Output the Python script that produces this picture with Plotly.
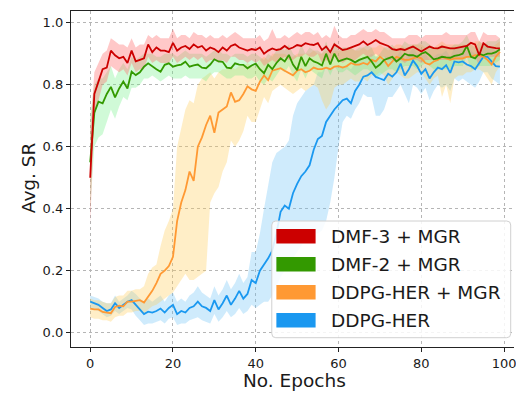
import plotly.graph_objects as go

epochs = list(range(100))

dmf3_mean = [0.50, 0.77, 0.81, 0.85, 0.855, 0.91, 0.895, 0.885, 0.89, 0.87,
             0.91, 0.875, 0.88, 0.885, 0.93, 0.905, 0.92, 0.91, 0.91, 0.905,
             0.935, 0.91, 0.92, 0.925, 0.915, 0.93, 0.92, 0.925, 0.91, 0.92,
             0.915, 0.905, 0.92, 0.91, 0.925, 0.93, 0.92, 0.915, 0.91, 0.915,
             0.912, 0.92, 0.90, 0.91, 0.917, 0.912, 0.915, 0.925, 0.915, 0.92,
             0.928, 0.925, 0.934, 0.93, 0.928, 0.934, 0.912, 0.923, 0.905, 0.93,
             0.92, 0.912, 0.915, 0.92, 0.923, 0.93, 0.94, 0.928, 0.935, 0.944,
             0.935, 0.93, 0.925, 0.915, 0.912, 0.915, 0.912, 0.918, 0.923, 0.915,
             0.907, 0.915, 0.923, 0.918, 0.917, 0.923, 0.92, 0.917, 0.917, 0.92,
             0.923, 0.925, 0.935, 0.93, 0.895, 0.934, 0.923, 0.92, 0.918, 0.917]
dmf3_lo = [0.35, 0.70, 0.75, 0.80, 0.81, 0.86, 0.85, 0.84, 0.85, 0.83,
           0.87, 0.84, 0.85, 0.85, 0.89, 0.87, 0.88, 0.87, 0.87, 0.87,
           0.89, 0.87, 0.88, 0.89, 0.88, 0.89, 0.88, 0.89, 0.87, 0.88,
           0.88, 0.87, 0.88, 0.87, 0.89, 0.89, 0.88, 0.88, 0.87, 0.88,
           0.87, 0.88, 0.86, 0.87, 0.88, 0.87, 0.88, 0.89, 0.88, 0.88,
           0.89, 0.89, 0.90, 0.89, 0.89, 0.90, 0.87, 0.88, 0.87, 0.89,
           0.88, 0.87, 0.88, 0.88, 0.88, 0.89, 0.90, 0.89, 0.89, 0.90,
           0.89, 0.89, 0.88, 0.88, 0.87, 0.88, 0.87, 0.88, 0.88, 0.88,
           0.87, 0.88, 0.88, 0.88, 0.88, 0.88, 0.88, 0.88, 0.88, 0.88,
           0.88, 0.89, 0.89, 0.89, 0.86, 0.90, 0.89, 0.89, 0.89, 0.89]
dmf3_hi = [0.65, 0.84, 0.87, 0.90, 0.91, 0.95, 0.94, 0.93, 0.93, 0.92,
           0.95, 0.92, 0.93, 0.93, 0.96, 0.95, 0.96, 0.95, 0.95, 0.95,
           0.98, 0.95, 0.96, 0.96, 0.95, 0.97, 0.96, 0.96, 0.95, 0.96,
           0.95, 0.95, 0.96, 0.95, 0.96, 0.97, 0.96, 0.95, 0.95, 0.95,
           0.95, 0.96, 0.94, 0.95, 0.98, 0.95, 0.95, 0.96, 0.95, 0.96,
           0.97, 0.96, 0.97, 0.97, 0.96, 0.97, 0.95, 0.96, 0.95, 0.99,
           0.96, 0.95, 0.95, 0.96, 0.96, 0.97, 0.98, 0.97, 0.97, 0.98,
           0.97, 0.97, 0.96, 0.95, 0.95, 0.95, 0.95, 0.96, 0.96, 0.96,
           0.95, 0.96, 0.96, 0.96, 0.96, 0.96, 0.97, 0.96, 0.96, 0.96,
           0.96, 0.96, 0.97, 0.97, 0.94, 0.97, 0.96, 0.96, 0.96, 0.95]

dmf2_mean = [0.55, 0.71, 0.745, 0.74, 0.77, 0.793, 0.759, 0.788, 0.81, 0.788,
             0.842, 0.831, 0.84, 0.858, 0.869, 0.858, 0.85, 0.842, 0.864, 0.869,
             0.858, 0.862, 0.865, 0.874, 0.858, 0.862, 0.865, 0.855, 0.853, 0.865,
             0.882, 0.875, 0.874, 0.855, 0.853, 0.869, 0.865, 0.864, 0.853, 0.862,
             0.868, 0.85, 0.837, 0.864, 0.85, 0.87, 0.885, 0.875, 0.896, 0.865,
             0.847, 0.89, 0.86, 0.885, 0.875, 0.87, 0.862, 0.90, 0.865, 0.90,
             0.875, 0.88, 0.885, 0.88, 0.872, 0.88, 0.885, 0.89, 0.875, 0.855,
             0.865, 0.88, 0.885, 0.89, 0.875, 0.885, 0.90, 0.895, 0.895, 0.89,
             0.90, 0.905, 0.895, 0.882, 0.885, 0.89, 0.888, 0.887, 0.893, 0.895,
             0.90, 0.925, 0.89, 0.885, 0.90, 0.895, 0.90, 0.90, 0.905, 0.914]
dmf2_lo = [0.40, 0.60, 0.63, 0.64, 0.68, 0.72, 0.69, 0.73, 0.76, 0.75,
           0.79, 0.79, 0.80, 0.82, 0.82, 0.83, 0.82, 0.81, 0.82, 0.83,
           0.82, 0.82, 0.82, 0.83, 0.82, 0.82, 0.82, 0.82, 0.81, 0.83,
           0.84, 0.84, 0.83, 0.82, 0.82, 0.83, 0.83, 0.83, 0.82, 0.82,
           0.83, 0.81, 0.80, 0.82, 0.81, 0.83, 0.85, 0.84, 0.86, 0.83,
           0.81, 0.85, 0.82, 0.85, 0.84, 0.83, 0.82, 0.86, 0.83, 0.86,
           0.84, 0.84, 0.85, 0.84, 0.83, 0.84, 0.85, 0.85, 0.84, 0.82,
           0.83, 0.84, 0.85, 0.85, 0.84, 0.85, 0.86, 0.86, 0.86, 0.85,
           0.86, 0.87, 0.86, 0.85, 0.85, 0.85, 0.85, 0.85, 0.86, 0.86,
           0.86, 0.89, 0.85, 0.85, 0.86, 0.86, 0.86, 0.86, 0.87, 0.88]
dmf2_hi = [0.70, 0.80, 0.82, 0.82, 0.84, 0.86, 0.82, 0.85, 0.87, 0.85,
           0.89, 0.88, 0.89, 0.90, 0.90, 0.90, 0.89, 0.89, 0.90, 0.90,
           0.90, 0.89, 0.90, 0.91, 0.90, 0.90, 0.90, 0.90, 0.89, 0.90,
           0.91, 0.91, 0.90, 0.90, 0.89, 0.90, 0.90, 0.90, 0.89, 0.90,
           0.90, 0.89, 0.88, 0.90, 0.89, 0.91, 0.92, 0.91, 0.93, 0.90,
           0.89, 0.93, 0.90, 0.92, 0.91, 0.91, 0.90, 0.94, 0.90, 0.94,
           0.91, 0.92, 0.92, 0.92, 0.91, 0.92, 0.92, 0.93, 0.92, 0.89,
           0.90, 0.92, 0.92, 0.93, 0.91, 0.92, 0.94, 0.93, 0.93, 0.93,
           0.94, 0.94, 0.93, 0.92, 0.92, 0.93, 0.92, 0.92, 0.93, 0.93,
           0.94, 0.96, 0.93, 0.92, 0.94, 0.93, 0.94, 0.94, 0.94, 0.95]

ddpgm_mean = [0.078, 0.075, 0.075, 0.067, 0.065, 0.063, 0.083, 0.087, 0.085, 0.10,
              0.10, 0.103, 0.105, 0.097, 0.115, 0.135, 0.16, 0.19, 0.20, 0.215,
              0.245, 0.36, 0.42, 0.46, 0.52, 0.49, 0.60, 0.63, 0.67, 0.70,
              0.645, 0.71, 0.72, 0.73, 0.775, 0.745, 0.75, 0.77, 0.795, 0.785,
              0.78, 0.81, 0.83, 0.815, 0.845, 0.85, 0.853, 0.845, 0.837, 0.83,
              0.845, 0.85, 0.84, 0.845, 0.855, 0.85, 0.85, 0.855, 0.85, 0.858,
              0.86, 0.855, 0.86, 0.87, 0.865, 0.865, 0.87, 0.865, 0.88, 0.875,
              0.89, 0.88, 0.86, 0.875, 0.89, 0.885, 0.88, 0.88, 0.885, 0.89,
              0.885, 0.87, 0.865, 0.875, 0.88, 0.89, 0.885, 0.88, 0.885, 0.885,
              0.885, 0.89, 0.89, 0.895, 0.895, 0.89, 0.88, 0.865, 0.89, 0.906]
ddpgm_lo = [0.05, 0.045, 0.045, 0.04, 0.04, 0.035, 0.05, 0.055, 0.055, 0.065,
            0.065, 0.07, 0.07, 0.06, 0.075, 0.085, 0.09, 0.10, 0.11, 0.12,
            0.13, 0.15, 0.17, 0.19, 0.17, 0.17, 0.18, 0.19, 0.20, 0.42,
            0.45, 0.47, 0.52, 0.55, 0.62, 0.60, 0.62, 0.65, 0.70, 0.68,
            0.68, 0.72, 0.76, 0.74, 0.78, 0.79, 0.80, 0.79, 0.78, 0.77,
            0.78, 0.79, 0.78, 0.79, 0.80, 0.79, 0.75, 0.72, 0.74, 0.79,
            0.80, 0.80, 0.81, 0.82, 0.81, 0.81, 0.82, 0.81, 0.83, 0.83,
            0.84, 0.83, 0.80, 0.82, 0.84, 0.83, 0.82, 0.82, 0.83, 0.84,
            0.84, 0.82, 0.80, 0.82, 0.83, 0.76, 0.80, 0.74, 0.82, 0.83,
            0.83, 0.84, 0.84, 0.85, 0.85, 0.84, 0.82, 0.80, 0.84, 0.86]
ddpgm_hi = [0.11, 0.105, 0.105, 0.10, 0.095, 0.095, 0.115, 0.12, 0.12, 0.135,
            0.135, 0.14, 0.14, 0.15, 0.19, 0.21, 0.22, 0.28, 0.33, 0.36,
            0.40, 0.60, 0.66, 0.72, 0.75, 0.74, 0.80, 0.82, 0.83, 0.84,
            0.82, 0.84, 0.85, 0.85, 0.86, 0.85, 0.86, 0.86, 0.87, 0.86,
            0.86, 0.88, 0.89, 0.88, 0.90, 0.90, 0.90, 0.90, 0.89, 0.89,
            0.90, 0.90, 0.90, 0.90, 0.91, 0.90, 0.90, 0.91, 0.90, 0.91,
            0.91, 0.91, 0.91, 0.92, 0.91, 0.91, 0.92, 0.91, 0.92, 0.92,
            0.93, 0.92, 0.91, 0.92, 0.93, 0.93, 0.92, 0.92, 0.93, 0.93,
            0.93, 0.92, 0.92, 0.92, 0.93, 0.94, 0.93, 0.93, 0.93, 0.93,
            0.93, 0.93, 0.93, 0.94, 0.94, 0.93, 0.93, 0.92, 0.93, 0.94]

ddpg_mean = [0.10, 0.095, 0.09, 0.08, 0.07, 0.075, 0.095, 0.08, 0.09, 0.10,
             0.105, 0.09, 0.075, 0.06, 0.068, 0.065, 0.07, 0.078, 0.065, 0.08,
             0.09, 0.06, 0.07, 0.065, 0.08, 0.085, 0.10, 0.085, 0.08, 0.07,
             0.105, 0.075, 0.095, 0.12, 0.09, 0.11, 0.135, 0.11, 0.125, 0.17,
             0.16, 0.20, 0.22, 0.24, 0.265, 0.32, 0.39, 0.41, 0.40, 0.45,
             0.48, 0.505, 0.52, 0.54, 0.59, 0.625, 0.635, 0.68, 0.70, 0.72,
             0.735, 0.75, 0.755, 0.74, 0.78, 0.80, 0.826, 0.83, 0.84, 0.825,
             0.82, 0.815, 0.835, 0.826, 0.84, 0.868, 0.83, 0.85, 0.878, 0.86,
             0.835, 0.85, 0.82, 0.84, 0.855, 0.85, 0.863, 0.838, 0.875, 0.872,
             0.875, 0.865, 0.86, 0.85, 0.87, 0.89, 0.89, 0.875, 0.86, 0.858]
ddpg_lo = [0.08, 0.075, 0.07, 0.06, 0.05, 0.055, 0.07, 0.06, 0.07, 0.08,
           0.075, 0.055, 0.04, 0.025, 0.03, 0.03, 0.035, 0.04, 0.03, 0.045,
           0.05, 0.025, 0.03, 0.03, 0.04, 0.045, 0.05, 0.04, 0.035, 0.03,
           0.06, 0.035, 0.05, 0.07, 0.05, 0.06, 0.08, 0.06, 0.07, 0.09,
           0.08, 0.09, 0.10, 0.10, 0.12, 0.15, 0.18, 0.20, 0.22, 0.24,
           0.26, 0.28, 0.30, 0.31, 0.32, 0.32, 0.33, 0.36, 0.42, 0.50,
           0.60, 0.68, 0.70, 0.69, 0.72, 0.74, 0.77, 0.76, 0.76, 0.70,
           0.70, 0.72, 0.76, 0.76, 0.78, 0.80, 0.77, 0.74, 0.80, 0.79,
           0.77, 0.79, 0.75, 0.78, 0.80, 0.79, 0.80, 0.78, 0.82, 0.81,
           0.82, 0.81, 0.80, 0.79, 0.81, 0.84, 0.84, 0.82, 0.81, 0.80]
ddpg_hi = [0.12, 0.115, 0.11, 0.10, 0.095, 0.095, 0.12, 0.10, 0.11, 0.12,
           0.135, 0.125, 0.11, 0.10, 0.11, 0.10, 0.11, 0.12, 0.10, 0.12,
           0.13, 0.10, 0.11, 0.10, 0.12, 0.13, 0.15, 0.13, 0.12, 0.11,
           0.15, 0.12, 0.14, 0.17, 0.14, 0.16, 0.19, 0.16, 0.18, 0.26,
           0.26, 0.32, 0.40, 0.48, 0.55, 0.58, 0.59, 0.60, 0.62, 0.70,
           0.74, 0.76, 0.78, 0.79, 0.80, 0.84, 0.84, 0.86, 0.85, 0.86,
           0.86, 0.86, 0.86, 0.85, 0.87, 0.88, 0.89, 0.89, 0.90, 0.89,
           0.89, 0.89, 0.89, 0.88, 0.89, 0.91, 0.88, 0.90, 0.92, 0.90,
           0.89, 0.90, 0.88, 0.89, 0.90, 0.90, 0.91, 0.89, 0.92, 0.92,
           0.92, 0.91, 0.91, 0.90, 0.92, 0.93, 0.93, 0.92, 0.91, 0.91]

labels = ["DMF-3 + MGR", "DMF-2 + MGR", "DDPG-HER + MGR", "DDPG-HER"]
x_ticks = [0, 20, 40, 60, 80, 100]
y_ticks = [0.0, 0.2, 0.4, 0.6, 0.8, 1.0]
y_tick_text = ["0.0", "0.2", "0.4", "0.6", "0.8", "1.0"]

series = [
    (labels[0], dmf3_mean, dmf3_lo, dmf3_hi, "#cc0000", "rgba(255,110,110,0.38)"),
    (labels[1], dmf2_mean, dmf2_lo, dmf2_hi, "#339900", "rgba(110,240,130,0.32)"),
    (labels[2], ddpgm_mean, ddpgm_lo, ddpgm_hi, "#ff9933", "rgba(255,205,90,0.34)"),
    (labels[3], ddpg_mean, ddpg_lo, ddpg_hi, "#1a98f0", "rgba(110,195,245,0.33)"),
]

fig = go.Figure()
# bands first (bottom-most: blue), then lines
for name, m, lo, hi, lc, fc in reversed(series):
    fig.add_trace(go.Scatter(
        x=epochs + epochs[::-1], y=hi + lo[::-1], fill="toself",
        fillcolor=fc, line=dict(width=0), mode="lines",
        hoverinfo="skip", showlegend=False))
for name, m, lo, hi, lc, fc in reversed(series):
    fig.add_trace(go.Scatter(
        x=epochs, y=m, mode="lines", name=name,
        line=dict(color=lc, width=1.8), showlegend=False))

L, R, T, B = 71, 516, 11, 347
W, H = 516, 394


def px_x(p):
    return (p - L) / (R - L)


def px_y(p):
    return (B - p) / (B - T)


shapes = []
# legend frame (rounded)
x0, x1, y0, y1 = px_x(272.7), px_x(512.7), px_y(221), px_y(337.7)
rx, ry = 4 / (R - L), 4 / (B - T)
path = (f"M {x0+rx},{y0} L {x1-rx},{y0} Q {x1},{y0} {x1},{y0-ry} "
        f"L {x1},{y1+ry} Q {x1},{y1} {x1-rx},{y1} L {x0+rx},{y1} "
        f"Q {x0},{y1} {x0},{y1+ry} L {x0},{y0-ry} Q {x0},{y0} {x0+rx},{y0} Z")
shapes.append(dict(type="path", path=path, xref="paper", yref="paper",
                   fillcolor="rgba(255,255,255,0.85)",
                   line=dict(color="#d0d0d0", width=1), layer="above"))
annotations = []
centers = [236.3, 264.3, 292.3, 320.3]
for (name, m, lo, hi, lc, fc), cy in zip(series, centers):
    shapes.append(dict(type="rect", xref="paper", yref="paper",
                       x0=px_x(277.3), x1=px_x(316.7),
                       y0=px_y(cy + 7.3), y1=px_y(cy - 7.3),
                       fillcolor=lc, line=dict(width=0), layer="above"))
    annotations.append(dict(text=name, xref="paper", yref="paper",
                            x=px_x(330.5), y=px_y(cy + 0.5), xanchor="left",
                            yanchor="middle", showarrow=False,
                            font=dict(size=18.5, color="#1a1a1a")))

annotations.append(dict(text="No. Epochs", xref="paper", yref="paper",
                        x=px_x(296), y=px_y(380), xanchor="center",
                        yanchor="middle", showarrow=False,
                        font=dict(size=18.5, color="#1a1a1a")))
annotations.append(dict(text="Avg. SR", xref="paper", yref="paper",
                        x=px_x(28), y=px_y(178), xanchor="center",
                        yanchor="middle", showarrow=False, textangle=-90,
                        font=dict(size=18.5, color="#1a1a1a")))

fig.update_layout(
    width=W, height=H,
    margin=dict(l=L, r=W - R, t=T, b=H - B),
    paper_bgcolor="white", plot_bgcolor="white",
    font=dict(family="DejaVu Sans", size=13, color="#1a1a1a"),
    shapes=shapes, annotations=annotations,
    xaxis=dict(range=[-4.64, 102.4], tickvals=x_ticks,
               showgrid=True, gridcolor="#b5b5b5", griddash="dot", gridwidth=0.8,
               zeroline=False, showline=True, linecolor="#222", linewidth=1.2,
               mirror=True, ticks="outside", ticklen=4, tickcolor="#222",
               ticklabeloverflow="allow", tickfont=dict(size=13)),
    yaxis=dict(range=[-0.0461, 1.0377], tickvals=y_ticks, ticktext=y_tick_text,
               showgrid=True, gridcolor="#b5b5b5", griddash="dot", gridwidth=0.8,
               zeroline=False, showline=True, linecolor="#222", linewidth=1.2,
               ticks="outside", ticklen=4, tickcolor="#222",
               tickfont=dict(size=13)),
)

fig.write_html("out.html")
